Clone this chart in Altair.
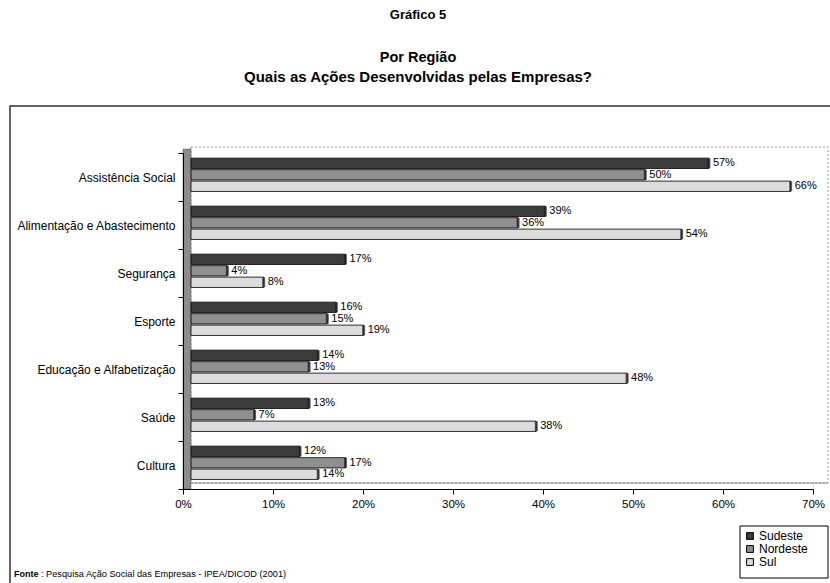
import altair as alt
import pandas as pd

# Survey results: share of companies by type of social action, per region (%)
categories = [
    "Assistência Social",
    "Alimentação e Abastecimento",
    "Segurança",
    "Esporte",
    "Educação e Alfabetização",
    "Saúde",
    "Cultura",
]
regions = ["Sudeste", "Nordeste", "Sul"]
sudeste = [57, 39, 17, 16, 14, 13, 12]
nordeste = [50, 36, 4, 15, 13, 7, 17]
sul = [66, 54, 8, 19, 48, 38, 14]
x_ticks = [0, 10, 20, 30, 40, 50, 60, 70]

series = {"Sudeste": sudeste, "Nordeste": nordeste, "Sul": sul}
rows = []
for region in regions:
    for cat, val in zip(categories, series[region]):
        rows.append({"category": cat, "region": region, "value": val})
df = pd.DataFrame(rows)

FONT = "Liberation Sans"
W, H = 630, 336
one = alt.Data(values=[{}])

y_enc = alt.Y(
    "category:N",
    sort=categories,
    scale=alt.Scale(paddingInner=0, paddingOuter=0),
    axis=alt.Axis(
        title=None,
        labelFontSize=12,
        labelColor="black",
        labelPadding=3,
        labelLimit=300,
        tickSize=5,
        tickBand="extent",
        tickColor="black",
        domainColor="black",
        zindex=1,
    ),
)
y_off = alt.YOffset(
    "region:N",
    sort=regions,
    scale=alt.Scale(paddingInner=0.1, paddingOuter=0.64, align=0.35),
)
color_enc = alt.Color(
    "region:N",
    sort=regions,
    scale=alt.Scale(domain=regions, range=["#3c3c3c", "#8f8f8f", "#dcdcdc"]),
    legend=alt.Legend(
        title=None,
        orient="none",
        legendX=561,
        legendY=377,
        direction="vertical",
        padding=0,
        symbolType="square",
        symbolSize=46,
        symbolStrokeColor="black",
        symbolStrokeWidth=1,
        labelFontSize=12,
        labelColor="black",
        labelOffset=3,
        rowPadding=1,
        labelLimit=100,
    ),
)

# Bars sit on the back plane of the 3-D box, so their scale is shifted right
bar_x = alt.X("value:Q", scale=alt.Scale(domain=[0, 70], range=[8, 644]), axis=None)

base = alt.Chart(df)
bars = base.mark_bar(stroke="black", strokeWidth=0.8).encode(
    x=bar_x, y=y_enc, yOffset=y_off, color=color_enc
)
caps = base.mark_tick(color="#1e1e1e", thickness=3, size=10).encode(
    x=bar_x, y=y_enc, yOffset=y_off
)
labels = base.transform_calculate(label="datum.value + '%'").mark_text(
    align="left", baseline="middle", dx=4, fontSize=11, color="black", font=FONT
).encode(x=bar_x, y=y_enc, yOffset=y_off, text="label:N")
bar_layer = alt.layer(bars, caps, labels)

# Front axis of the box (value scale on the front edge)
axis_layer = base.mark_point(opacity=0).encode(
    x=alt.X(
        "value:Q",
        scale=alt.Scale(domain=[0, 70]),
        axis=alt.Axis(
            title=None,
            values=x_ticks,
            labelExpr="datum.value + '%'",
            labelFlush=False,
            grid=False,
            tickSize=5,
            tickColor="black",
            domainColor="black",
            labelFontSize=11.5,
            labelColor="black",
            labelPadding=4,
            zindex=1,
        ),
    ),
    y=y_enc,
)

# Outer frame, back wall, side wall, floor and legend box
frame = alt.Chart(one).mark_rect(fillOpacity=0, stroke="#333333", strokeWidth=1.5).encode(
    x=alt.value(-173), x2=alt.value(660), y=alt.value(-47), y2=alt.value(450)
)
back_wall = alt.Chart(one).mark_rect(
    fill="white", stroke="#9a9a9a", strokeWidth=1, strokeDash=[2, 2]
).encode(x=alt.value(8), x2=alt.value(645), y=alt.value(-6), y2=alt.value(330))
side_wall = alt.Chart(one).mark_rect(fill="#8c8c8c", stroke="#5a5a5a", strokeWidth=0.5).encode(
    x=alt.value(0), x2=alt.value(8), y=alt.value(-4), y2=alt.value(H)
)
floor = alt.Chart(one).mark_rule(color="#8a8a8a", strokeWidth=1).encode(
    x=alt.value(8), x2=alt.value(645), y=alt.value(330)
)
legend_box = alt.Chart(one).mark_rect(fill="white", stroke="black", strokeWidth=1).encode(
    x=alt.value(557), x2=alt.value(645), y=alt.value(373), y2=alt.value(425)
)

def label(text, x, y, size, weight="bold", align="center"):
    return alt.Chart(one).mark_text(
        text=text, font=FONT, fontSize=size, fontWeight=weight,
        align=align, baseline="middle", color="black",
    ).encode(x=alt.value(x), y=alt.value(y))

t1 = label("Gráfico 5", 235, -138, 13)
t2 = label("Por Região", 235, -95, 14.5)
t3 = label("Quais as Ações Desenvolvidas pelas Empresas?", 235, -76, 15)
src1 = label("Fonte", -169, 421, 9, align="left")
src2 = label(": Pesquisa Ação Social das Empresas  - IPEA/DICOD (2001)", -142, 421, 9.2,
             weight="normal", align="left")

chart = (
    alt.layer(frame, back_wall, side_wall, floor, legend_box, axis_layer, bar_layer,
              t1, t2, t3, src1, src2)
    .resolve_scale(x="independent")
    .properties(
        width=W,
        height=H,
        autosize=alt.AutoSizeParams(type="none"),
        padding={"left": 183, "top": 153, "right": 17, "bottom": 94},
        background="white",
    )
    .configure_view(stroke=None)
    .configure(font=FONT)
)

chart.save("out.html", embed_options={"renderer": "svg", "actions": False})
